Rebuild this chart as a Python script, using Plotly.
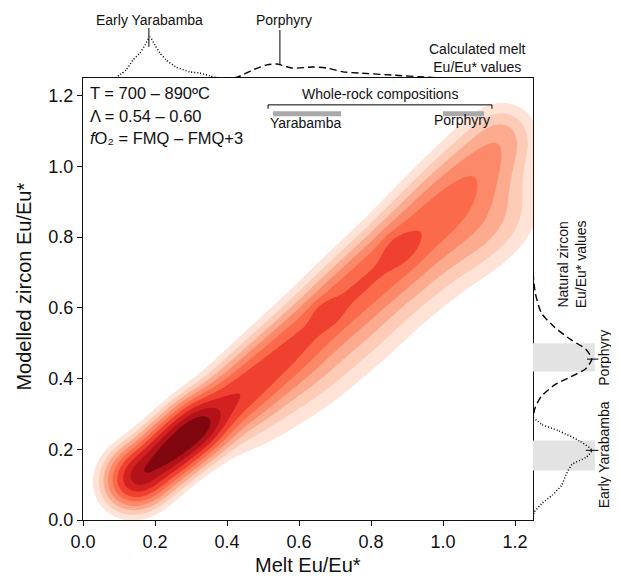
import numpy as np
import plotly.graph_objects as go

# ---------------- data ----------------
TICKS = [0.0, 0.2, 0.4, 0.6, 0.8, 1.0, 1.2]

# density components (melt Eu/Eu* -> modelled zircon Eu/Eu*): centre, weight, spread along / across ridge
COMP_X = [0.15, 0.23, 0.31,
          0.38, 0.45, 0.52, 0.59, 0.66, 0.73, 0.80, 0.87, 0.94, 1.01, 1.08, 1.14, 1.17,
          0.675, 0.88,
          0.48, 0.62, 0.76, 0.90, 1.04, 1.14]
COMP_Y = [0.12, 0.185, 0.255,
          0.31, 0.37, 0.435, 0.50, 0.57, 0.635, 0.695, 0.76, 0.83, 0.90, 0.97, 1.05, 1.10,
          0.585, 0.77,
          0.32, 0.44, 0.56, 0.69, 0.80, 0.86]
COMP_W = [0.45, 0.60, 0.60,
          0.20, 0.14, 0.12, 0.11, 0.10, 0.10, 0.10, 0.10, 0.10, 0.09, 0.09, 0.06, 0.03,
          0.085, 0.075,
          0.04, 0.06, 0.06, 0.055, 0.055, 0.045]
COMP_SL = [0.05, 0.06, 0.06,
           0.08, 0.08, 0.08, 0.08, 0.08, 0.08, 0.08, 0.08, 0.08, 0.08, 0.08, 0.07, 0.05,
           0.028, 0.035,
           0.10, 0.10, 0.10, 0.10, 0.10, 0.09]
COMP_SA = [0.045, 0.042, 0.042,
           0.045, 0.048, 0.05, 0.05, 0.05, 0.052, 0.055, 0.055, 0.058, 0.06, 0.062, 0.06, 0.05,
           0.022, 0.028,
           0.07, 0.075, 0.075, 0.075, 0.075, 0.07]
RIDGE_ANGLE_DEG = 42
LEVELS = [0.02, 0.045, 0.08, 0.13, 0.20, 0.29, 0.42, 0.58, 0.76]
REDS = ["#ffffff", "#fee3d6", "#fdcbb6", "#fcab8f", "#fc8a6a", "#fb6a4a",
        "#f0402f", "#d32020", "#b21218", "#800610"]

# top marginal: calculated melt Eu/Eu* (relative density)
TOP_EY_X = [0.089, 0.120, 0.139, 0.158, 0.172, 0.186, 0.200, 0.214, 0.231, 0.258, 0.297, 0.325, 0.353, 0.381]
TOP_EY_D = [0.00, 0.20, 0.44, 0.61, 0.80, 1.00, 0.80, 0.61, 0.44, 0.27, 0.15, 0.12, 0.05, 0.00]
TOP_PO_X = [0.389, 0.428, 0.472, 0.511, 0.539, 0.583, 0.639, 0.678, 0.722, 0.769, 0.861, 0.956, 1.000]
TOP_PO_D = [0.00, 0.02, 0.20, 0.32, 0.34, 0.24, 0.27, 0.24, 0.15, 0.12, 0.07, 0.02, 0.00]

# right marginal: natural zircon Eu/Eu* (relative density)
RIGHT_PO_Y = [0.70, 0.64, 0.585, 0.545, 0.51, 0.483, 0.455, 0.428, 0.405, 0.382, 0.35, 0.32, 0.29]
RIGHT_PO_D = [0.00, 0.04, 0.14, 0.36, 0.63, 0.88, 0.98, 0.88, 0.63, 0.36, 0.14, 0.04, 0.00]
RIGHT_EY_Y = [0.29, 0.27, 0.252, 0.224, 0.197, 0.177, 0.157, 0.128, 0.099, 0.07, 0.047, 0.022, 0.0]
RIGHT_EY_D = [0.00, 0.15, 0.43, 0.77, 0.98, 0.88, 0.65, 0.55, 0.48, 0.32, 0.15, 0.02, 0.00]
NATURAL_BANDS = {"Porphyry": (0.42, 0.50), "Early Yarabamba": (0.14, 0.225)}

# whole-rock composition ranges (melt Eu/Eu*)
WR_YARABAMBA = (0.528, 0.717)
WR_PORPHYRY = (1.00, 1.114)

# ---------------- density grid ----------------
gx = np.linspace(0, 1.25, 251)
gy = np.linspace(0, 1.25, 251)
X, Y = np.meshgrid(gx, gy)
a = np.deg2rad(RIDGE_ANGLE_DEG)
Z = np.zeros_like(X)
for cx, cy, w, sl, sa in zip(COMP_X, COMP_Y, COMP_W, COMP_SL, COMP_SA):
    u = (X - cx) * np.cos(a) + (Y - cy) * np.sin(a)
    v = -(X - cx) * np.sin(a) + (Y - cy) * np.cos(a)
    Z += w * np.exp(-u**2 / (2 * sl**2) - v**2 / (2 * sa**2))
Z /= Z.max()
ZI = np.interp(Z, [0.0] + LEVELS + [1.01], list(range(0, len(LEVELS) + 1)) + [len(LEVELS) + 1])

n = len(LEVELS)
cscale = [[j / n, REDS[j]] for j in range(n + 1)]

FONT = "Liberation Sans, Arial, sans-serif"

# the page has an 8px body margin; the figure fills the window, its last 8px run past the edge
W, H = 619, 578
ML, MR, MB = 75, 8, 66
PW, PH = W - ML - MR, H - MB          # 536 x 512
XD = [0, 450 / PW]
YD = [0, 442 / PH]

fig = go.Figure()
fig.add_trace(go.Contour(
    x=gx, y=gy, z=ZI, autocontour=False,
    contours=dict(start=1, end=n, size=1, coloring="fill", showlines=False),
    colorscale=cscale, showscale=False, line=dict(width=0), hoverinfo="skip",
    xaxis="x", yaxis="y"))

dotted = dict(color="black", width=1.5, dash="1px,2px", shape="spline", smoothing=0.6)
dashed = dict(color="black", width=1.4, dash="7px,4px", shape="spline", smoothing=0.6)
fig.add_trace(go.Scatter(x=TOP_EY_X, y=TOP_EY_D, mode="lines", xaxis="x2", yaxis="y2", line=dotted, hoverinfo="skip"))
fig.add_trace(go.Scatter(x=TOP_PO_X, y=TOP_PO_D, mode="lines", xaxis="x2", yaxis="y2", line=dashed, hoverinfo="skip"))
fig.add_trace(go.Scatter(x=RIGHT_PO_D, y=RIGHT_PO_Y, mode="lines", xaxis="x3", yaxis="y3", line=dashed, hoverinfo="skip"))
fig.add_trace(go.Scatter(x=RIGHT_EY_D, y=RIGHT_EY_Y, mode="lines", xaxis="x3", yaxis="y3", line=dotted, hoverinfo="skip"))

ax_common = dict(showgrid=False, zeroline=False, showline=True, linecolor="#111", linewidth=1.3,
                 mirror=True, ticks="outside", ticklen=5, tickwidth=1.2, tickcolor="#111",
                 tickfont=dict(size=18, color="#111", family=FONT), tickvals=TICKS,
                 ticktext=[f"{t:.1f}" for t in TICKS], automargin=False)
fig.update_layout(
    width=W, height=H, margin=dict(l=ML, r=MR, t=0, b=MB, autoexpand=False),
    paper_bgcolor="white", plot_bgcolor="white", showlegend=False,
    font=dict(family=FONT, color="#111"),
    xaxis=dict(domain=XD, range=[0, 1.25], anchor="y", **ax_common),
    yaxis=dict(domain=YD, range=[0, 1.25], anchor="x", **ax_common),
    xaxis2=dict(domain=XD, range=[0, 1.25], anchor="y2", visible=False),
    yaxis2=dict(domain=[YD[1], 1], range=[0, (PH - 442) / 41], anchor="x2", visible=False),
    xaxis3=dict(domain=[XD[1], 1], range=[0, (PW - 450) / 60], anchor="y3", visible=False),
    yaxis3=dict(domain=YD, range=[0, 1.25], anchor="x3", visible=False),
)

def py(sy):  # window y -> paper y
    return (PH - (sy - 8)) / PH
def px(sx):  # window x -> paper x
    return ((sx - 8) - ML) / PW

shapes = []
for name, (y0, y1) in NATURAL_BANDS.items():
    shapes.append(dict(type="rect", xref="x3", yref="y3", x0=0, x1=1.03, y0=y0, y1=y1,
                       fillcolor="#e3e3e3", line=dict(width=0), layer="below"))
shapes.append(dict(type="line", xref="x3", yref="y3", x0=0.90, x1=1.09, y0=0.455, y1=0.455,
                   line=dict(color="black", width=1)))
shapes.append(dict(type="line", xref="x3", yref="y3", x0=0.88, x1=1.09, y0=0.197, y1=0.197,
                   line=dict(color="black", width=1)))
shapes.append(dict(type="line", xref="x2", yref="y2", x0=0.183, x1=0.183, y0=0.76, y1=1.22,
                   line=dict(color="black", width=1)))
shapes.append(dict(type="line", xref="x2", yref="y2", x0=0.547, x1=0.547, y0=0.32, y1=1.17,
                   line=dict(color="black", width=1)))
shapes.append(dict(type="path", xref="x", yref="y",
                   path="M 0.514 1.163 L 0.514 1.174 L 1.136 1.174 L 1.136 1.163",
                   line=dict(color="black", width=1)))
for (x0, x1) in (WR_YARABAMBA, WR_PORPHYRY):
    shapes.append(dict(type="line", xref="x", yref="y", x0=x0, x1=x1, y0=1.149, y1=1.149,
                       line=dict(color="#a9a9a9", width=5)))
fig.update_layout(shapes=shapes)

ann = []
def A(**k):
    base = dict(showarrow=False, font=dict(family=FONT, size=14, color="#111"))
    base.update(k)
    ann.append(base)

big = dict(family=FONT, size=16.5, color="#111")
A(text="T = 700 – 890ºC", xref="x", yref="y", x=0.014, y=1.209, xanchor="left", yanchor="middle", font=big)
A(text="Λ = 0.54 – 0.60", xref="x", yref="y", x=0.014, y=1.143, xanchor="left", yanchor="middle", font=big)
A(text="<i>f</i>O₂ = FMQ – FMQ+3", xref="x", yref="y", x=0.014, y=1.081, xanchor="left", yanchor="middle", font=big)
A(text="Whole-rock compositions", xref="x", yref="y", x=0.825, y=1.205, xanchor="center", yanchor="middle")
A(text="Yarabamba", xref="x", yref="y", x=0.62, y=1.122, xanchor="center", yanchor="middle")
A(text="Porphyry", xref="x", yref="y", x=1.053, y=1.13, xanchor="center", yanchor="middle")
A(text="Early Yarabamba", xref="x2", yref="paper", x=0.186, y=py(20), xanchor="center", yanchor="middle")
A(text="Porphyry", xref="x2", yref="paper", x=0.558, y=py(20), xanchor="center", yanchor="middle")
A(text="Calculated melt<br>Eu/Eu* values", xref="x2", yref="paper", x=1.097, y=py(58),
  xanchor="center", yanchor="middle")
A(text="Natural zircon<br>Eu/Eu* values", xref="x3", yref="y3", x=0.65, y=0.723, textangle=-90,
  xanchor="center", yanchor="middle")
A(text="Porphyry", xref="x3", yref="y3", x=1.19, y=0.46, textangle=-90, xanchor="center", yanchor="middle")
A(text="Early Yarabamba", xref="x3", yref="y3", x=1.19, y=0.184, textangle=-90, xanchor="center", yanchor="middle")
title_font = dict(family=FONT, size=20, color="#111")
A(text="Melt Eu/Eu*", xref="x", yref="paper", x=0.625, y=py(565), xanchor="center",
  yanchor="middle", font=title_font)
A(text="Modelled zircon Eu/Eu*", xref="paper", yref="y", x=px(24), y=0.66, textangle=-90,
  xanchor="center", yanchor="middle", font=title_font)
fig.update_layout(annotations=ann)

fig.write_html("out.html")
